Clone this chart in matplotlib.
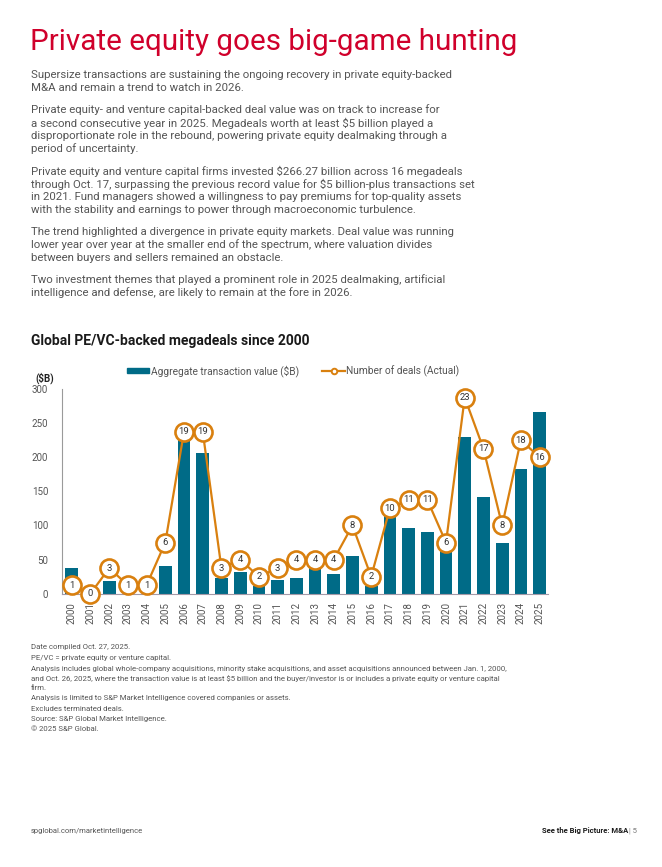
import numpy as np
import matplotlib
matplotlib.use("Agg")
import matplotlib.pyplot as plt
from matplotlib.lines import Line2D
from matplotlib.patches import Patch

plt.rcParams['font.family'] = ['Roboto', 'DejaVu Sans']

# data
years = [str(y) for y in range(2000, 2026)]
valoare = [38, 0, 19, 0, 0, 41, 232, 206, 23, 32, 11, 20, 23, 40, 29,
           55, 12, 115, 97, 90, 66, 230, 141, 74, 183, 266.27]
nr_deals = [1, 0, 3, 1, 1, 6, 19, 19, 3, 4, 2, 3, 4, 4, 4,
            8, 2, 10, 11, 11, 6, 23, 17, 8, 18, 16]

TEAL = "#006b87"
ORANGE = "#d9800f"
RED = "#d0002b"
GRI = "#555555"

W, H = 662, 867
fig = plt.figure(figsize=(W / 100, H / 100), dpi=100)

def px(x, y):
    return x / W, 1 - y / H

# titlu
fig.text(*px(30, 42), "Private equity goes big-game hunting", color=RED,
         fontsize=21.3, fontweight="normal", va="center", ha="left")

paragrafe = [
    ["Supersize transactions are sustaining the ongoing recovery in private equity-backed",
     "M&A and remain a trend to watch in 2026."],
    ["Private equity- and venture capital-backed deal value was on track to increase for",
     "a second consecutive year in 2025. Megadeals worth at least $5 billion played a",
     "disproportionate role in the rebound, powering private equity dealmaking through a",
     "period of uncertainty."],
    ["Private equity and venture capital firms invested $266.27 billion across 16 megadeals",
     "through Oct. 17, surpassing the previous record value for $5 billion-plus transactions set",
     "in 2021. Fund managers showed a willingness to pay premiums for top-quality assets",
     "with the stability and earnings to power through macroeconomic turbulence."],
    ["The trend highlighted a divergence in private equity markets. Deal value was running",
     "lower year over year at the smaller end of the spectrum, where valuation divides",
     "between buyers and sellers remained an obstacle."],
    ["Two investment themes that played a prominent role in 2025 dealmaking, artificial",
     "intelligence and defense, are likely to remain at the fore in 2026."],
]
y = 75
for p in paragrafe:
    for linie in p:
        fig.text(*px(31, y), linie, fontsize=8.22, color=GRI, va="center")
        y += 13
    y += 9

fig.text(*px(31, 341), "Global PE/VC-backed megadeals since 2000", fontsize=10,
         fontweight="bold", color="#1a1a1a", va="center")

# grafic
ax = fig.add_axes([62 / W, 1 - 593.7 / H, (548 - 62) / W, (593.7 - 389) / H])
x = np.arange(len(years))
ax.bar(x, valoare, width=0.68, color=TEAL, zorder=2)
ax.set_xlim(-0.52, 25.45)
ax.set_ylim(0, 300)
ax.set_yticks(range(0, 301, 50))
ax.set_xticks(x)
ax.set_xticklabels(years, rotation=90)
ax.tick_params(axis="both", length=0, labelsize=7, labelcolor="#555555")
ax.tick_params(axis="y", pad=10)
ax.tick_params(axis="x", pad=6)
for s in ["top", "right"]:
    ax.spines[s].set_visible(False)
ax.spines["left"].set_color("#9a9a9a")
ax.spines["bottom"].set_color("#a49aa8")
ax.spines["left"].set_linewidth(0.8)
ax.spines["bottom"].set_linewidth(0.8)

ax2 = ax.twinx()
ax2.set_ylim(0, 24)
ax2.axis("off")
ax2.plot(x, nr_deals, color=ORANGE, lw=1.6, marker="o", ms=13,
         mfc="white", mec=ORANGE, mew=1.9, clip_on=False, zorder=3)
for xi, n in zip(x, nr_deals):
    ax2.text(xi, n, str(n), ha="center", va="center", fontsize=6.8,
             color="#333333", zorder=4, clip_on=False)

fig.text(*px(35, 378), "($B)", fontsize=7, fontweight="bold", color="#222222", va="center")

handles = [Patch(color=TEAL),
           Line2D([0], [0], color=ORANGE, lw=1.6, marker="o", ms=4, mfc="white", mec=ORANGE, mew=1.4)]
fig.legend(handles, ["Aggregate transaction value ($B)", "Number of deals (Actual)"],
           loc="center left", bbox_to_anchor=px(118, 371), ncol=2, frameon=False,
           fontsize=7.3, labelcolor="#555555", handlelength=2.2, handleheight=0.45,
           handletextpad=0.15, columnspacing=2.3)

note = [
    (647, "Date compiled Oct. 27, 2025."),
    (658, "PE/VC = private equity or venture capital."),
    (669, "Analysis includes global whole-company acquisitions, minority stake acquisitions, and asset acquisitions announced between Jan. 1, 2000,"),
    (679, "and Oct. 26, 2025, where the transaction value is at least $5 billion and the buyer/investor is or includes a private equity or venture capital"),
    (688, "firm."),
    (698, "Analysis is limited to S&P Market Intelligence covered companies or assets."),
    (709, "Excludes terminated deals."),
    (719, "Source: S&P Global Market Intelligence."),
    (729, "\u00a9 2025 S&P Global."),
]
for yy, t in note:
    fig.text(*px(31, yy), t, fontsize=5.55, color="#555555", va="center")

fig.text(*px(31, 831), "spglobal.com/marketintelligence", fontsize=5.5, color="#555555", va="center")
fig.text(*px(628, 831), "See the Big Picture: M&A", fontsize=5.5, fontweight="bold",
         color="#1a1a1a", va="center", ha="right")
fig.text(*px(629, 831), "| 5", fontsize=5.5, color="#777777", va="center", ha="left")

fig.savefig("out.png", dpi=100, facecolor="white")
